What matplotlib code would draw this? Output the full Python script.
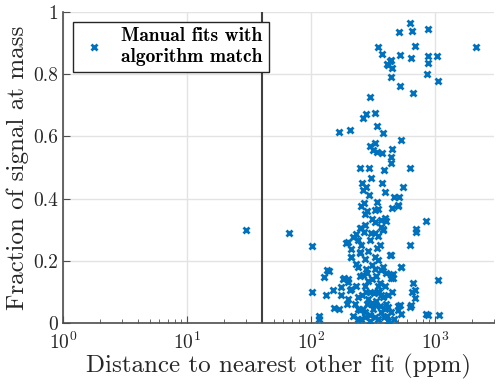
import matplotlib
matplotlib.use('Agg')
import matplotlib.pyplot as plt
from matplotlib.ticker import FuncFormatter, LogLocator

# distance to nearest other fit (ppm) and fraction of signal at mass
distPpm = [
    634, 513, 657, 885, 686, 2157, 519, 645, 873, 1045, 885, 441, 450, 439,
    869, 1064, 522, 670, 347, 374, 418, 437, 410,
    297, 280, 327, 262, 170, 205, 339, 381, 532, 297, 331, 316, 341, 374,
    448, 445, 442, 625, 250, 292, 391, 307, 258, 280, 377, 393, 550, 292,
    509, 448, 507, 853, 699, 262, 253, 343, 283, 326, 347, 312, 369, 406,
    253, 275, 369, 267, 271, 464, 502, 393, 330, 381,
    30, 66.6, 102, 102, 117, 117, 127, 135, 141, 133, 152, 153, 170, 174,
    181, 186, 176, 193, 209, 210, 201, 205, 197, 218, 232, 247, 239, 247,
    431, 535, 445, 458, 453, 634, 708, 665, 690, 650, 690, 625, 645, 519,
    535, 502, 410, 841, 877, 1058, 1075, 464,
    247, 267, 326, 381, 199, 212, 240, 255, 297, 358, 445, 247, 271, 326,
    347, 536, 240, 280, 326, 370, 458, 199, 263, 271, 347, 445, 199, 240,
    288, 337, 381, 406, 240, 271, 316, 370, 445, 503, 255, 297, 347, 418,
    218, 212,
    290, 310, 335, 300, 320, 355, 285, 330, 360, 300, 330, 390, 280, 260,
    310, 290, 340, 275, 360, 395, 420, 305, 350, 230, 225, 265, 395, 420,
    370, 340, 310, 285, 250, 380, 400, 230,
]
fracSignal = [
    0.966, 0.934, 0.939, 0.946, 0.891, 0.888, 0.860, 0.851, 0.859, 0.859,
    0.835, 0.844, 0.819, 0.790, 0.802, 0.778, 0.762, 0.739, 0.887, 0.865,
    0.830, 0.843, 0.833,
    0.725, 0.671, 0.674, 0.660, 0.615, 0.621, 0.633, 0.612, 0.588, 0.570,
    0.578, 0.556, 0.551, 0.548, 0.558, 0.535, 0.515, 0.499, 0.497, 0.497,
    0.492, 0.465, 0.449, 0.438, 0.449, 0.422, 0.436, 0.411, 0.406, 0.370,
    0.376, 0.328, 0.301, 0.427, 0.376, 0.390, 0.361, 0.363, 0.368, 0.333,
    0.331, 0.328, 0.306, 0.314, 0.310, 0.385, 0.352, 0.406, 0.379, 0.336,
    0.325, 0.301,
    0.299, 0.290, 0.248, 0.101, 0.022, 0.014, 0.148, 0.170, 0.166, 0.091,
    0.105, 0.048, 0.044, 0.116, 0.143, 0.146, 0.091, 0.258, 0.237, 0.213,
    0.132, 0.105, 0.060, 0.277, 0.285, 0.229, 0.014, 0.041,
    0.218, 0.180, 0.146, 0.146, 0.100, 0.250, 0.293, 0.129, 0.105, 0.100,
    0.081, 0.052, 0.057, 0.057, 0.030, 0.041, 0.023, 0.028, 0.025, 0.138,
    0.025, 0.014,
    0.304, 0.293, 0.288, 0.299, 0.261, 0.213, 0.266, 0.250, 0.266, 0.250,
    0.218, 0.224, 0.207, 0.213, 0.202, 0.180, 0.180, 0.175, 0.175, 0.170,
    0.158, 0.142, 0.153, 0.120, 0.120, 0.153, 0.077, 0.083, 0.077, 0.072,
    0.083, 0.061, 0.045, 0.034, 0.045, 0.034, 0.034, 0.056, 0.013, 0.008,
    0.013, 0.008, 0.024, 0.110,
    0.135, 0.140, 0.150, 0.100, 0.095, 0.100, 0.060, 0.060, 0.055, 0.025,
    0.020, 0.020, 0.100, 0.090, 0.185, 0.230, 0.240, 0.018, 0.130, 0.120,
    0.090, 0.290, 0.280, 0.120, 0.060, 0.045, 0.045, 0.050, 0.090, 0.100,
    0.065, 0.160, 0.150, 0.180, 0.160, 0.190,
]
cutoffPpm = 40
legendText = 'Manual fits with\nalgorithm match'

plt.rcParams['font.family'] = 'cmr10'
plt.rcParams['mathtext.fontset'] = 'cm'
plt.rcParams['axes.formatter.use_mathtext'] = True

dpi = 100
fig = plt.figure(figsize=(500/dpi, 385/dpi), dpi=dpi)
ax = fig.add_axes([0.126, 0.161, 0.862, 0.808])

darkGray = '#262626'
axisGray = '#4D4D4D'
ax.plot(distPpm, fracSignal, 'x', color='#0072BD', markersize=5,
        markeredgewidth=2.0, label=legendText, zorder=3)
ax.axvline(cutoffPpm, color='#404040', linewidth=1.5, zorder=2)

ax.set_xscale('log')
ax.set_xlim(1, 3000)
ax.set_ylim(0, 1)
ax.set_xticks([1, 10, 100, 1000])
ax.xaxis.set_minor_locator(LogLocator(base=10, subs=range(2, 10)))
ax.set_yticks([0, 0.2, 0.4, 0.6, 0.8, 1])
ax.yaxis.set_major_formatter(FuncFormatter(lambda v, p: '%g' % v))

ax.grid(True, which='major', color='#E3E3E3', linewidth=1.0, zorder=0)
ax.set_axisbelow(True)
for side in ['top', 'right']:
    ax.spines[side].set_visible(False)
for side in ['left', 'bottom']:
    ax.spines[side].set_color(axisGray)
    ax.spines[side].set_linewidth(1.2)
ax.tick_params(which='both', direction='in', colors=axisGray,
               labelsize=14, labelcolor=darkGray)
ax.tick_params(which='major', length=5)
ax.tick_params(which='minor', length=3)
ax.tick_params(axis='x', which='major', pad=6)

ax.set_xlabel('Distance to nearest other fit (ppm)', fontsize=18,
              color=darkGray, labelpad=1)
ax.set_ylabel('Fraction of signal at mass', fontsize=18,
              color=darkGray, labelpad=3)

leg = ax.legend(loc='upper left', prop={'family': 'cmb10', 'size': 14},
                fancybox=False, framealpha=1, edgecolor=darkGray,
                borderaxespad=0.5, handletextpad=0.6, borderpad=0.3,
                handlelength=1.6, labelspacing=0.2)
leg.get_frame().set_linewidth(1.0)
leg.set_zorder(5)

fig.savefig('out.png', dpi=dpi)
